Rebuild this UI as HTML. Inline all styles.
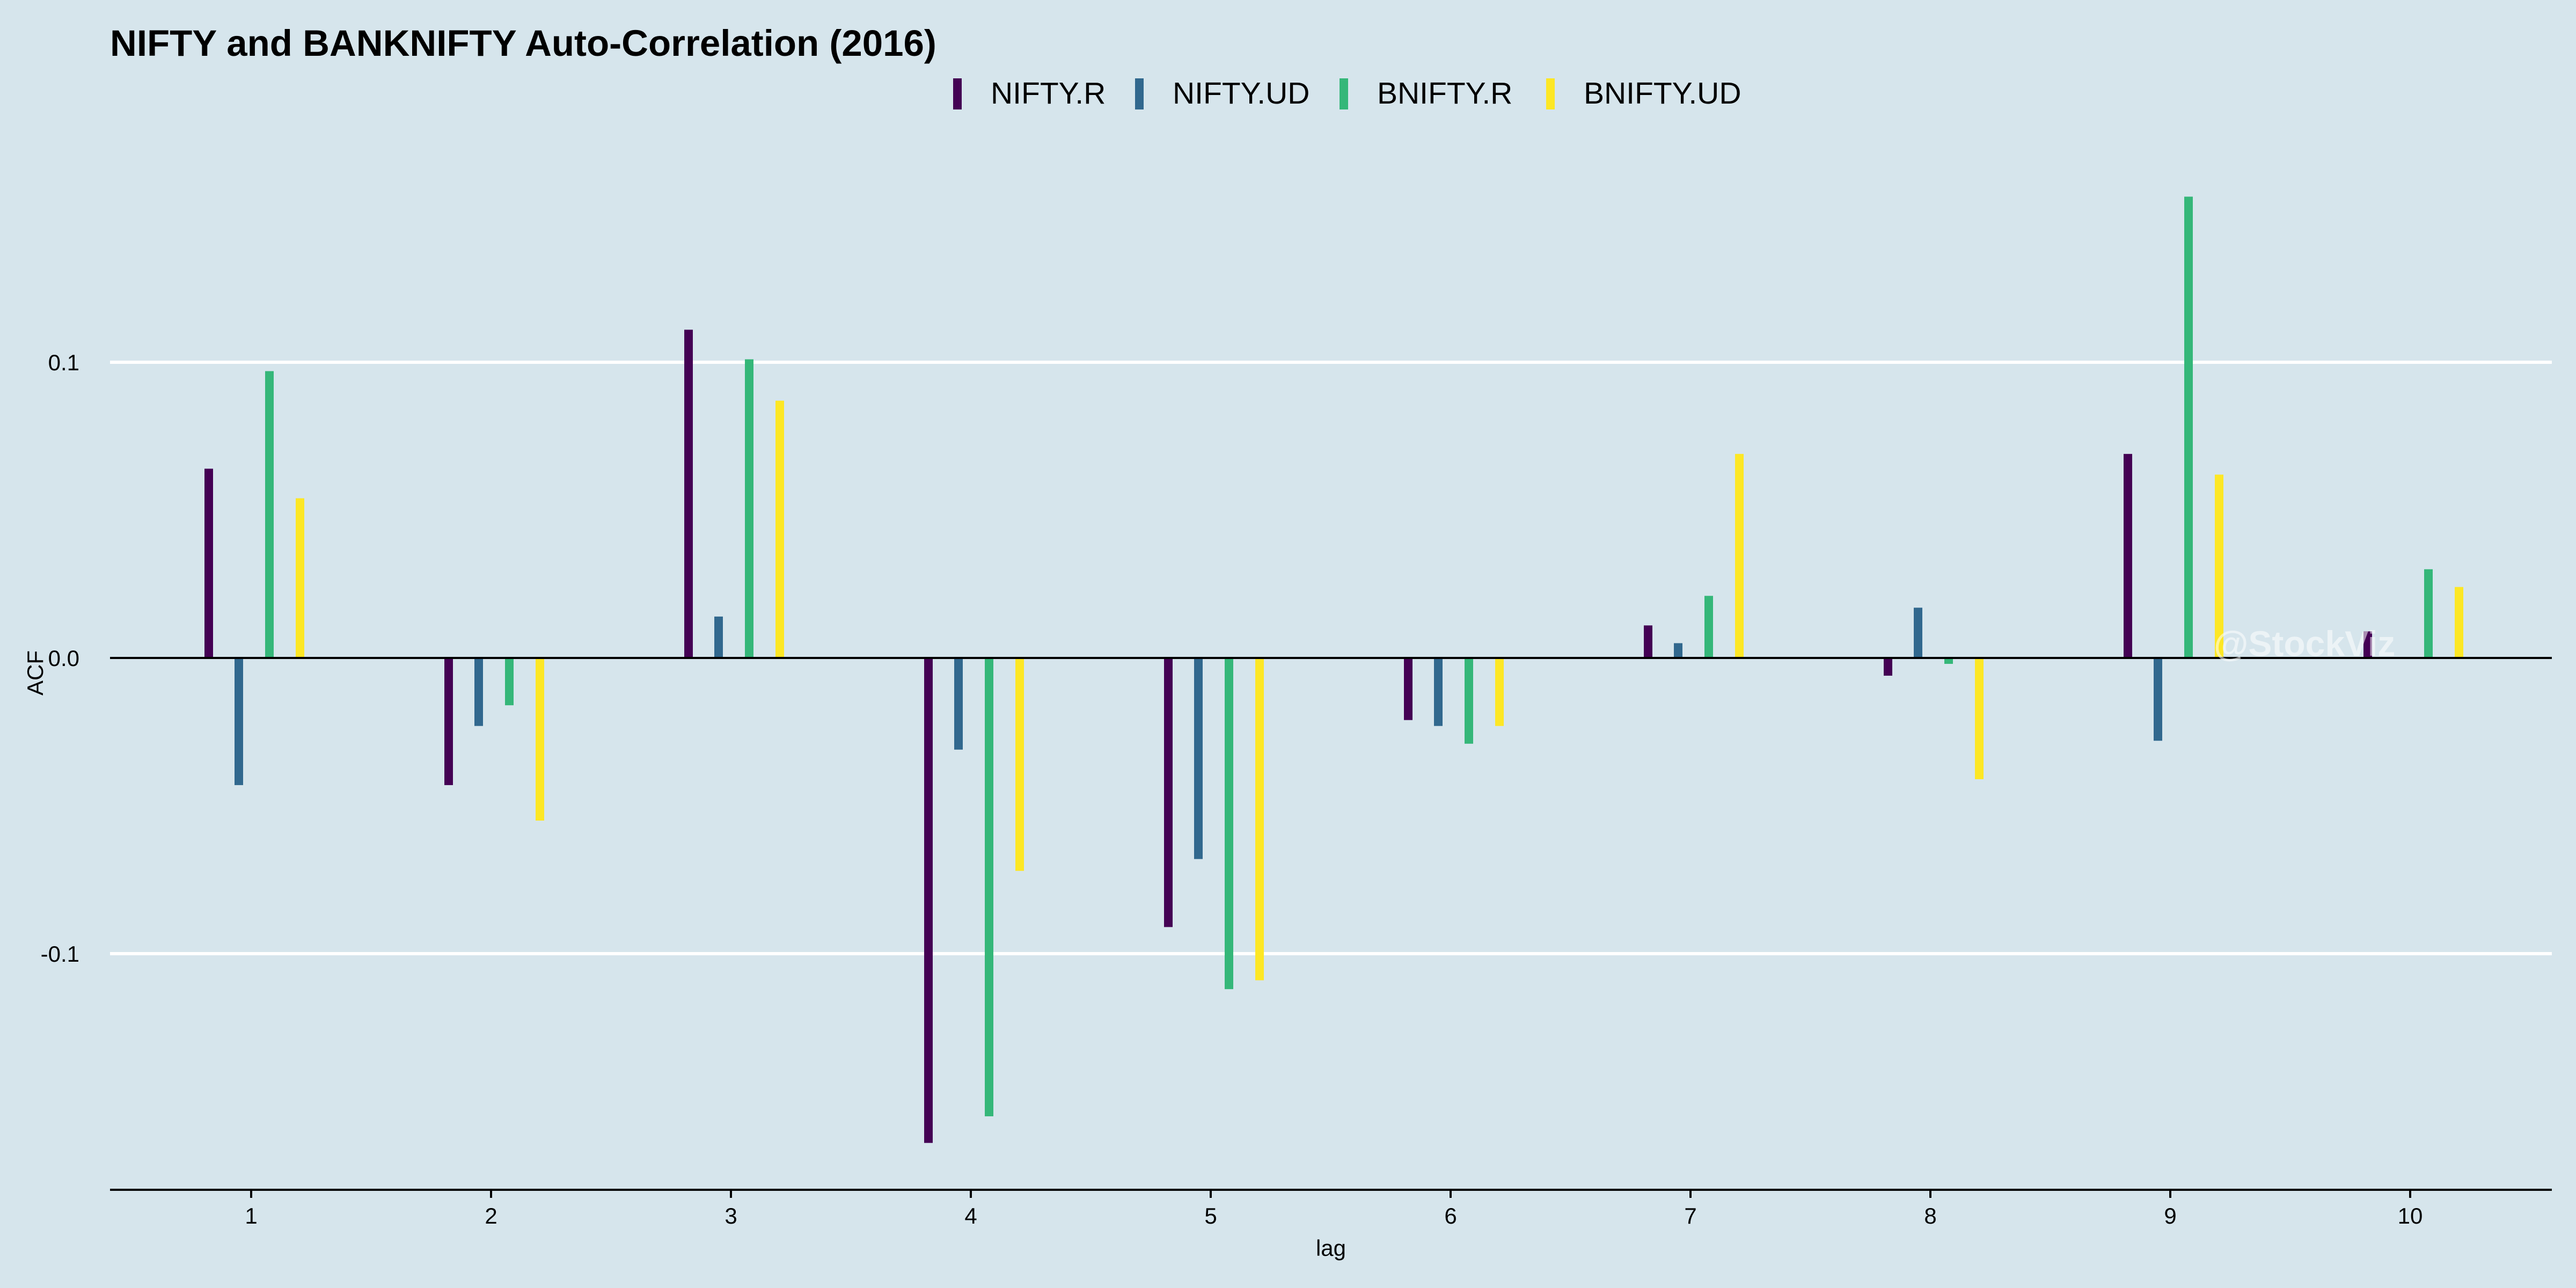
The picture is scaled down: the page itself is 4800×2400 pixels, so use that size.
<!DOCTYPE html>
<html><head><meta charset="utf-8"><style>
html,body{margin:0;padding:0;background:#d6e5ec;}
svg{display:block;font-family:"Liberation Sans",sans-serif;}
</style></head><body>
<svg id="chart" width="4800" height="2400" viewBox="0 0 4800 2400">
<rect width="4800" height="2400" fill="#d6e5ec"/>
<text x="205" y="104" font-size="69" font-weight="bold" fill="#000">NIFTY and BANKNIFTY Auto-Correlation (2016)</text>
<g id="legend"></g>
<g id="grid"></g>
<g id="bars"></g>
<g id="axes"></g>
<text x="4125" y="1222" font-size="66" font-weight="bold" fill="#ffffff" fill-opacity="0.55">@StockViz</text>
<text x="2480" y="2340" font-size="42" text-anchor="middle" fill="#000">lag</text>
<text transform="translate(80,1254) rotate(-90)" font-size="42" text-anchor="middle" fill="#000">ACF</text>
</svg>
<script>
const lags = [1,2,3,4,5,6,7,8,9,10];
const seriesNames = ["NIFTY.R","NIFTY.UD","BNIFTY.R","BNIFTY.UD"];
const seriesColors = ["#440154","#31688e","#35b779","#fde725"];
const niftyR = [0.064,-0.043,0.111,-0.164,-0.091,-0.021,0.011,-0.006,0.069,0.009];
const niftyUD = [-0.043,-0.023,0.014,-0.031,-0.068,-0.023,0.005,0.017,-0.028,0.0];
const bniftyR = [0.097,-0.016,0.101,-0.155,-0.112,-0.029,0.021,-0.002,0.156,0.030];
const bniftyUD = [0.054,-0.055,0.087,-0.072,-0.109,-0.023,0.069,-0.041,0.062,0.024];
const yTicks = [-0.1,0.0,0.1];
const yTickLabels = ["-0.1","0.0","0.1"];

const NS="http://www.w3.org/2000/svg";
const series=[niftyR,niftyUD,bniftyR,bniftyUD];
function yS(v){return 1226 - v*5510;}
function xS(l){return 468 + (l-1)*447;}
const offsets=[-79,-23,34,91];
function mk(tag,attrs,parent){const e=document.createElementNS(NS,tag);for(const k in attrs)e.setAttribute(k,attrs[k]);parent.appendChild(e);return e;}
const grid=document.getElementById('grid'),bars=document.getElementById('bars'),axes=document.getElementById('axes'),legend=document.getElementById('legend');
yTicks.forEach((t,i)=>{
  if(t!==0){const g=mk('line',{x1:205,x2:4755,y1:yS(t),y2:yS(t),stroke:'#ffffff','stroke-width':6},grid);
  
  }
  const tx=mk('text',{x:148,y:yS(t)+15,'font-size':42,'text-anchor':'end',fill:'#000'},axes);
  tx.textContent=yTickLabels[i];
  
  
});
series.forEach((vals,s)=>{
  vals.forEach((v,i)=>{
    const x=xS(lags[i])+offsets[s];
    const y0=yS(0),y1=yS(v);
    const r=mk('rect',{x:x-8,y:Math.min(y0,y1),width:16,height:Math.abs(y1-y0),fill:seriesColors[s]},bars);
    
    
  });
});
const zl=mk('line',{x1:205,x2:4755,y1:yS(0),y2:yS(0),stroke:'#000','stroke-width':4},axes);


const xa=mk('line',{x1:205,x2:4755,y1:2217,y2:2217,stroke:'#000','stroke-width':4},axes);


lags.forEach(l=>{
  const tk=mk('line',{x1:xS(l),x2:xS(l),y1:2217,y2:2232,stroke:'#000','stroke-width':4},axes);
  
  
  const t=mk('text',{x:xS(l),y:2280,'font-size':42,'text-anchor':'middle',fill:'#000'},axes);
  t.textContent=l;
  
  
});
const legX=[1784,2123,2504,2889];
seriesNames.forEach((n,i)=>{
  const r=mk('rect',{x:legX[i]-8,y:146,width:16,height:58,fill:seriesColors[i]},legend);
  
  
  const t=mk('text',{x:legX[i]+62,y:193,'font-size':57,fill:'#000'},legend);
  t.textContent=n;
  
  
});
</script>
</body></html>
